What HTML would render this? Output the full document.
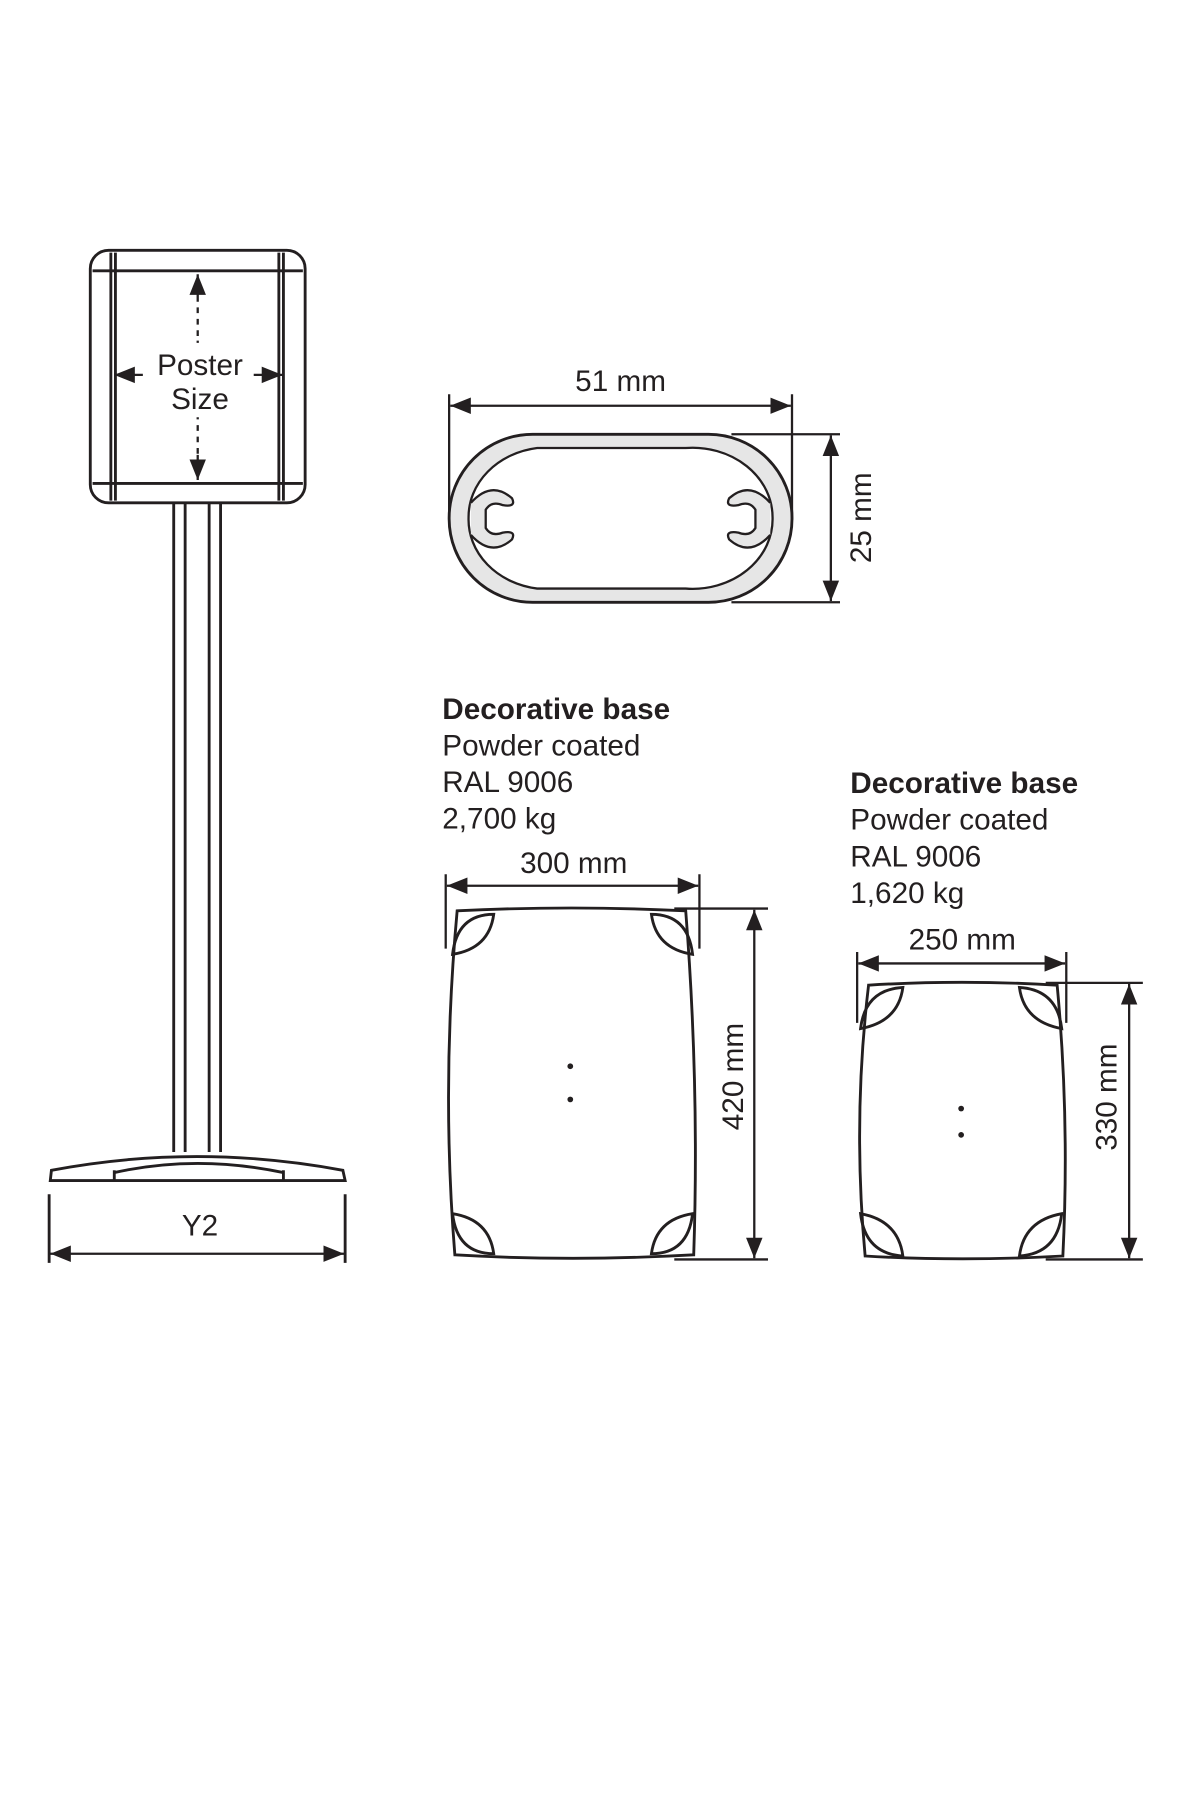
<!DOCTYPE html>
<html><head><meta charset="utf-8"><style>
html,body{margin:0;padding:0;background:#fff}
svg{display:block}
text{font-family:"Liberation Sans",sans-serif;fill:#231f20}
</style></head><body>
<svg width="1200" height="1800" viewBox="0 0 1050 1575" xmlns="http://www.w3.org/2000/svg">
<defs>
<marker id="a" viewBox="0 0 10 10" refX="10" refY="5" markerWidth="9" markerHeight="9" orient="auto-start-reverse"><path d="M0,1 L10,5 L0,9 Z" fill="#231f20"/></marker>
</defs>
<g stroke="#231f20" fill="none" stroke-width="2.5">
<rect x="79" y="219" width="188" height="221" rx="16"/>
<line x1="97" y1="221" x2="97" y2="438"/><line x1="101" y1="221" x2="101" y2="438"/>
<line x1="248" y1="221" x2="248" y2="438"/><line x1="244" y1="221" x2="244" y2="438"/>
<line x1="81" y1="237" x2="265" y2="237"/><line x1="81" y1="423" x2="265" y2="423"/>
<line x1="173" y1="300" x2="173" y2="240" marker-end="url(#a)" stroke-width="2"/>
<line x1="173" y1="264" x2="173" y2="298" stroke="#fff" stroke-width="3" stroke-dasharray="5 5"/>
<line x1="173" y1="365" x2="173" y2="420" marker-end="url(#a)" stroke-width="2"/>
<line x1="173" y1="367" x2="173" y2="398" stroke="#fff" stroke-width="3" stroke-dasharray="5 5"/>
<line x1="125" y1="328" x2="100" y2="328" marker-end="url(#a)" stroke-width="2"/>
<line x1="222" y1="328" x2="247" y2="328" marker-end="url(#a)" stroke-width="2"/>
<line x1="152" y1="440" x2="152" y2="1008"/><line x1="162" y1="440" x2="162" y2="1008"/>
<line x1="183" y1="440" x2="183" y2="1008"/><line x1="193" y1="440" x2="193" y2="1008"/>
<path d="M45,1024 Q172,1000 300,1024 L302,1033 L44,1033 Z"/>
<path d="M100,1026 Q172,1010 248,1026"/>
<line x1="100" y1="1024" x2="100" y2="1033"/><line x1="248" y1="1024" x2="248" y2="1033"/>
<line x1="43" y1="1045" x2="43" y2="1105"/><line x1="302" y1="1045" x2="302" y2="1105"/>
<line x1="44" y1="1097" x2="301" y2="1097" marker-start="url(#a)" marker-end="url(#a)" stroke-width="2"/>
<rect x="393" y="380" width="300" height="147" rx="73" fill="#e6e6e6"/>
<path d="M470,392 L600,392 A70,61 0 0 1 676,453 A70,61 0 0 1 600,515 L470,515 A70,61 0 0 1 410,453 A70,61 0 0 1 470,392 Z" fill="#fff" stroke-width="2"/>
<path d="M412,440 Q430,420 448,436 Q452,444 440,442 Q430,438 425,446 L425,462 Q430,470 440,466 Q452,464 448,472 Q430,488 412,468" fill="#e6e6e6" stroke-width="2"/>
<path d="M674,440 Q656,420 638,436 Q634,444 646,442 Q656,438 661,446 L661,462 Q656,470 646,466 Q634,464 638,472 Q656,488 674,468" fill="#e6e6e6" stroke-width="2"/>
<line x1="393" y1="345" x2="393" y2="455" stroke-width="2"/>
<line x1="693" y1="345" x2="693" y2="455" stroke-width="2"/>
<line x1="394" y1="355" x2="692" y2="355" marker-start="url(#a)" marker-end="url(#a)" stroke-width="2"/>
<line x1="640" y1="380" x2="735" y2="380" stroke-width="2"/><line x1="640" y1="527" x2="735" y2="527" stroke-width="2"/>
<line x1="727" y1="381" x2="727" y2="526" marker-start="url(#a)" marker-end="url(#a)" stroke-width="2"/>
<path d="M400,797 Q500,792 600,797 Q612,950 607,1098 Q500,1104 398,1098 Q386,950 400,797 Z"/>
<path d="M396,835 Q400,800 432,800 Q428,830 396,835 Z"/>
<path d="M606,835 Q602,800 570,800 Q574,830 606,835 Z"/>
<path d="M396,1062 Q400,1097 432,1097 Q428,1067 396,1062 Z"/>
<path d="M606,1062 Q602,1097 570,1097 Q574,1067 606,1062 Z"/>
<line x1="390" y1="765" x2="390" y2="830" stroke-width="2"/><line x1="612" y1="765" x2="612" y2="830" stroke-width="2"/>
<line x1="391" y1="775" x2="611" y2="775" marker-start="url(#a)" marker-end="url(#a)" stroke-width="2"/>
<line x1="590" y1="795" x2="672" y2="795" stroke-width="2"/><line x1="590" y1="1102" x2="672" y2="1102" stroke-width="2"/>
<line x1="660" y1="796" x2="660" y2="1101" marker-start="url(#a)" marker-end="url(#a)" stroke-width="2"/>
<path d="M760,862 Q841,857 925,862 Q936,980 930,1099 Q841,1104 757,1099 Q746,980 760,862 Z"/>
<path d="M753,900 Q757,866 790,864 Q786,894 753,900 Z"/>
<path d="M929,900 Q925,866 892,864 Q896,894 929,900 Z"/>
<path d="M753,1062 Q757,1097 790,1099 Q786,1068 753,1062 Z"/>
<path d="M929,1062 Q925,1097 892,1099 Q896,1068 929,1062 Z"/>
<line x1="750" y1="833" x2="750" y2="895" stroke-width="2"/><line x1="933" y1="833" x2="933" y2="895" stroke-width="2"/>
<line x1="751" y1="843" x2="932" y2="843" marker-start="url(#a)" marker-end="url(#a)" stroke-width="2"/>
<line x1="915" y1="860" x2="1000" y2="860" stroke-width="2"/><line x1="915" y1="1102" x2="1000" y2="1102" stroke-width="2"/>
<line x1="988" y1="861" x2="988" y2="1101" marker-start="url(#a)" marker-end="url(#a)" stroke-width="2"/>
</g>
<g fill="#231f20">
<circle cx="499" cy="933" r="2.5"/><circle cx="499" cy="962" r="2.5"/>
<circle cx="841" cy="970" r="2.5"/><circle cx="841" cy="993" r="2.5"/>
</g>
<rect x="128" y="305" width="90" height="60" fill="#fff"/>
<text x="175" y="328" font-size="26" text-anchor="middle">Poster</text>
<text x="175" y="358" font-size="26" text-anchor="middle">Size</text>
<text x="175" y="1081" font-size="26" text-anchor="middle">Y2</text>
<text x="543" y="342" font-size="26" text-anchor="middle">51 mm</text>
<text transform="translate(762,453) rotate(-90)" font-size="26" text-anchor="middle">25 mm</text>
<text x="387" y="629" font-size="26" font-weight="bold">Decorative base</text>
<text x="387" y="661" font-size="26">Powder coated</text>
<text x="387" y="693" font-size="26">RAL 9006</text>
<text x="387" y="725" font-size="26">2,700 kg</text>
<text x="502" y="764" font-size="26" text-anchor="middle">300 mm</text>
<text transform="translate(650,942) rotate(-90)" font-size="26" text-anchor="middle">420 mm</text>
<text x="744" y="694" font-size="26" font-weight="bold">Decorative base</text>
<text x="744" y="726" font-size="26">Powder coated</text>
<text x="744" y="758" font-size="26">RAL 9006</text>
<text x="744" y="790" font-size="26">1,620 kg</text>
<text x="842" y="831" font-size="26" text-anchor="middle">250 mm</text>
<text transform="translate(977,960) rotate(-90)" font-size="26" text-anchor="middle">330 mm</text>
</svg>
</body></html>
